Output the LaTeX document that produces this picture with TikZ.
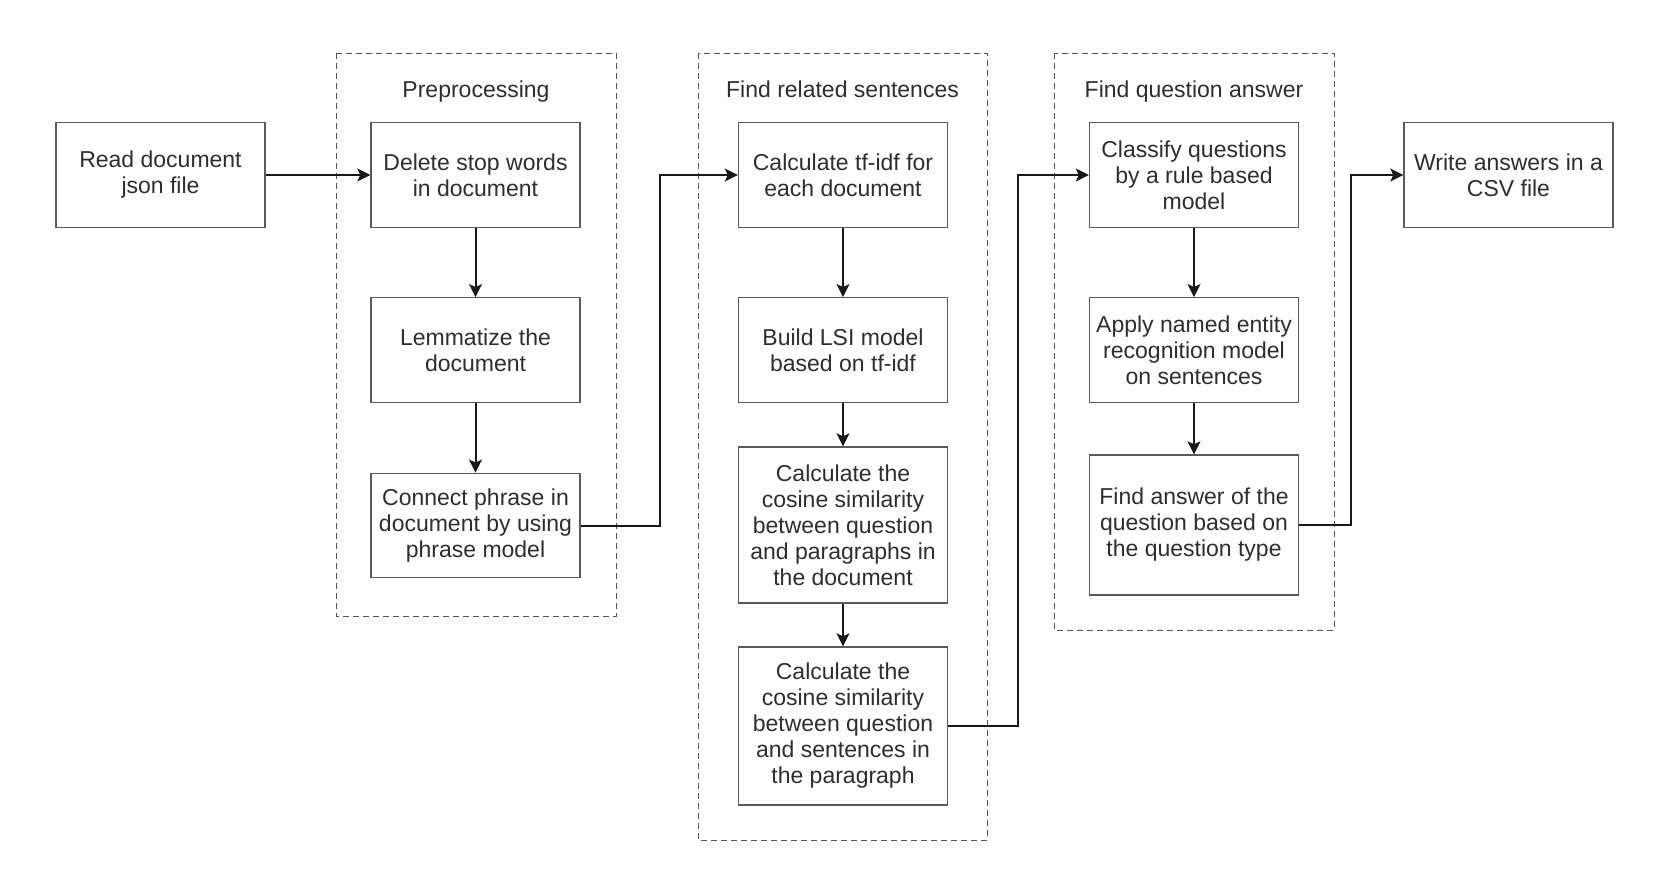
\documentclass[tikz,border=0pt]{standalone}
\usepackage{fontspec}
\setmainfont{Liberation Sans}
\usetikzlibrary{arrows.meta}
\definecolor{boxline}{HTML}{5A5A5A}
\definecolor{txt}{HTML}{2E2E2E}
\definecolor{dashline}{HTML}{555555}
\begin{document}
\begin{tikzpicture}[x=0.5pt,y=-0.5pt,
  stepbox/.style={draw=boxline, line width=0.7pt, fill=white, text=txt,
    minimum width=104.5pt, minimum height=52.25pt, align=center, inner sep=2pt,
    font=\fontsize{11.5}{13}\selectfont},
  groupbox/.style={draw=dashline, line width=0.5pt, dash pattern=on 3pt off 2pt},
  grouptitle/.style={text=txt, anchor=base, font=\fontsize{11.5}{13}\selectfont},
  arr/.style={draw=black!90, line width=1pt, -{Stealth[length=6.5pt,width=6.5pt,inset=1.5pt]}}]
\useasboundingbox (0,0) rectangle (1656,880);
% group frames
\draw[groupbox] (336,53) rectangle (616,616);
\draw[groupbox] (698,53) rectangle (987,840);
\draw[groupbox] (1054,53) rectangle (1334,630);
\node[grouptitle] (t1) at (476,97) {Preprocessing};
\node[grouptitle] (t2) at (842.5,97) {Find related sentences};
\node[grouptitle] (t3) at (1194,97) {Find question answer};
% nodes
\node[stepbox] (read) at (160.5,175) {Read document\\json file};
\node[stepbox] (del) at (475.5,175) {Delete stop words\\in document};
\node[stepbox] (lem) at (475.5,350) {Lemmatize the\\document};
\node[stepbox] (con) at (475.5,525.5) {Connect phrase in\\document by using\\phrase model};
\node[stepbox] (tfidf) at (843,175) {Calculate tf-idf for\\each document};
\node[stepbox] (lsi) at (843,350) {Build LSI model\\based on tf-idf};
\node[stepbox, minimum height=78pt] (cos1) at (843,525) {Calculate the\\cosine similarity\\between question\\and paragraphs in\\the document};
\node[stepbox, minimum height=79pt] (cos2) at (843,726) {Calculate the\\cosine similarity\\between question\\and sentences in\\the paragraph};
\node[stepbox] (cls) at (1194,175) {Classify questions\\by a rule based\\model};
\node[stepbox] (app) at (1194,350) {Apply named entity\\recognition model\\on sentences};
\node[stepbox, minimum height=70pt] (ans) at (1194,525) {Find answer of the\\question based on\\the question type};
\node[stepbox] (wr) at (1508.5,175) {Write answers in a\\CSV file};
% junction coordinates
\coordinate (j1) at (660,350);
\coordinate (j2) at (1018,450);
\coordinate (j3) at (1351,350);
% connectors
\draw[arr] (read) -- (del);
\draw[arr] (del) -- (lem);
\draw[arr] (lem) -- (con);
\draw[arr] (con.east) -| (j1) |- (tfidf.west);
\draw[arr] (tfidf) -- (lsi);
\draw[arr] (lsi) -- (cos1);
\draw[arr] (cos1) -- (cos2);
\draw[arr] (cos2.east) -| (j2) |- (cls.west);
\draw[arr] (cls) -- (app);
\draw[arr] (app) -- (ans);
\draw[arr] (ans.east) -| (j3) |- (wr.west);
\end{tikzpicture}
\end{document}
